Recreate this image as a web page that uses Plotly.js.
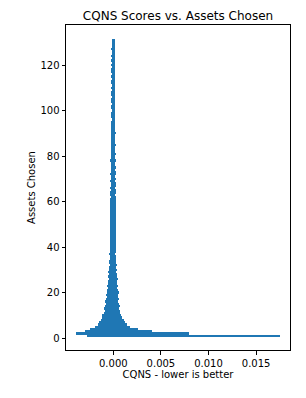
<!DOCTYPE html>
<html>
<head>
<meta charset="utf-8">
<script src="https://cdn.plot.ly/plotly-3.0.1.min.js"></script>
<style>
html,body{margin:0;padding:0;background:#fff;}
#chart{width:306px;height:398px;}
</style>
</head>
<body>
<div id="chart"></div>
<script>
// Assets chosen (levels 1..131)
const assetsChosen = [
  1,2,3,4,5,6,7,8,9,10,11,12,13,14,15,16,17,18,19,20,
  21,22,23,24,25,26,27,28,29,30,31,32,33,34,35,36,37,38,39,40,
  41,42,43,44,45,46,47,48,49,50,51,52,53,54,55,56,57,58,59,60,
  61,62,63,64,65,66,67,68,69,70,71,72,73,74,75,76,77,78,79,80,
  81,82,83,84,85,86,87,88,89,90,91,92,93,94,95,96,97,98,99,100,
  101,102,103,104,105,106,107,108,109,110,111,112,113,114,115,116,117,118,119,120,
  121,122,123,124,125,126,127,128,129,130,131
];
// Lowest CQNS score at each level
const cqnsLow = [
  -0.0028,-0.0039,-0.0030,-0.0024,-0.0019,-0.0016,-0.0015,-0.0013,-0.0012,-0.0012,
  -0.0010,-0.0009,-0.0010,-0.0009,-0.0008,-0.0009,-0.0008,-0.0007,-0.0008,-0.0007,
  -0.0007,-0.0006,-0.0007,-0.0006,-0.0006,-0.0005,-0.0006,-0.0005,-0.0006,-0.0005,
  -0.0005,-0.0004,-0.0005,-0.0005,-0.0004,-0.0004,-0.0005,-0.0004,-0.0004,-0.0004,
  -0.0004,-0.0003,-0.0004,-0.0004,-0.0003,-0.0004,-0.0003,-0.0003,-0.0004,-0.0003,
  -0.0003,-0.0004,-0.0003,-0.0003,-0.0003,-0.0004,-0.0003,-0.0003,-0.0003,-0.0003,
  -0.0003,-0.00025,-0.0003,-0.0003,-0.00025,-0.0003,-0.00025,-0.00025,-0.0003,-0.00025,
  -0.00025,-0.0003,-0.00025,-0.00025,-0.0002,-0.00025,-0.00025,-0.0003,-0.00025,-0.0002,
  -0.00025,-0.0002,-0.00025,-0.00025,-0.0002,-0.00025,-0.0002,-0.0002,-0.00025,-0.0002,
  -0.0002,-0.0002,-0.00025,-0.0002,-0.0002,-0.00015,-0.0002,-0.0002,-0.0002,-0.00015,
  -0.0002,-0.0002,-0.00015,-0.0002,-0.0002,-0.00015,-0.0002,-0.0002,-0.00015,-0.0002,
  -0.00015,-0.0002,-0.0002,-0.00015,-0.0002,-0.00015,-0.0002,-0.0002,-0.00015,-0.0002,
  -0.00015,-0.0002,-0.00015,-0.0002,-0.00015,-0.00015,-0.0002,-0.00015,-0.00015,-0.00015,
  -0.00015
];
// Highest CQNS score at each level
const cqnsHigh = [
  0.0175,0.0080,0.0041,0.0026,0.0018,0.0014,0.0012,0.0011,0.0009,0.0008,
  0.0007,0.0007,0.0006,0.0007,0.0006,0.0005,0.0006,0.0005,0.0005,0.0006,
  0.0005,0.0004,0.0005,0.0004,0.0004,0.0005,0.0004,0.0004,0.0003,0.0004,
  0.0003,0.0004,0.0003,0.0003,0.0003,0.0003,0.0002,0.0003,0.0003,0.0003,
  0.0003,0.0003,0.00025,0.0003,0.0003,0.00025,0.0003,0.00025,0.00025,0.0003,
  0.00025,0.00025,0.0003,0.00025,0.00025,0.00025,0.0003,0.00025,0.00025,0.00025,
  0.00025,0.00025,0.0002,0.00025,0.00025,0.0002,0.00025,0.00025,0.0002,0.00025,
  0.0002,0.00025,0.00025,0.0002,0.00025,0.0002,0.0002,0.00025,0.0002,0.0002,
  0.00025,0.0002,0.0002,0.0002,0.00025,0.0002,0.0002,0.0002,0.0002,0.00025,
  0.0002,0.0002,0.0002,0.00015,0.0002,0.0002,0.0002,0.00015,0.0002,0.0002,
  0.0002,0.00015,0.0002,0.0002,0.00015,0.0002,0.0002,0.00015,0.0002,0.0002,
  0.00015,0.0002,0.00015,0.0002,0.0002,0.00015,0.0002,0.00015,0.0002,0.00015,
  0.0002,0.00015,0.0002,0.00015,0.0002,0.00015,0.00015,0.0002,0.00015,0.00015,
  0.00015
];
const xTicks = [0, 0.005, 0.010, 0.015];
const xTickLabels = ['0.000', '0.005', '0.010', '0.015'];
const yTicks = [0, 20, 40, 60, 80, 100, 120];

const barColor = '#1f77b4';
const traces = [
  {type:'bar', orientation:'h', y:assetsChosen, x:cqnsHigh, width:1.0,
   marker:{color:barColor, line:{width:0}}, hoverinfo:'x+y', showlegend:false},
  {type:'bar', orientation:'h', y:assetsChosen, x:cqnsLow, width:1.0,
   marker:{color:barColor, line:{width:0}}, hoverinfo:'x+y', showlegend:false}
];

const axisCommon = {
  showgrid:false, zeroline:false, showline:true, mirror:true,
  linecolor:'#000', linewidth:1, ticks:'outside', ticklen:3.5, tickwidth:1,
  tickcolor:'#000', tickfont:{family:'DejaVu Sans', size:10, color:'#000'}
};

const layout = {
  width:306, height:398,
  margin:{l:66, r:16, t:25, b:48, pad:0},
  paper_bgcolor:'#fff', plot_bgcolor:'#fff',
  barmode:'overlay', bargap:0,
  font:{family:'DejaVu Sans', size:10, color:'#000'},
  title:{text:'CQNS Scores vs. Assets Chosen', font:{family:'DejaVu Sans', size:12, color:'#000'},
         x:0.5, xref:'paper', xanchor:'center', y:1-16/398, yref:'container', yanchor:'middle'},
  xaxis:Object.assign({}, axisCommon, {
    range:[-0.00497, 0.01856], tickvals:xTicks, ticktext:xTickLabels, ticklabelstandoff:0,
    title:{text:'CQNS - lower is better', font:{family:'DejaVu Sans', size:10, color:'#000'}, standoff:3}
  }),
  yaxis:Object.assign({}, axisCommon, {
    range:[-5.27, 137.6], tickvals:yTicks,
    title:{text:'Assets Chosen', font:{family:'DejaVu Sans', size:10, color:'#000'}, standoff:2}
  })
};

Plotly.newPlot('chart', traces, layout, {displayModeBar:false, staticPlot:true});
</script>
</body>
</html>
